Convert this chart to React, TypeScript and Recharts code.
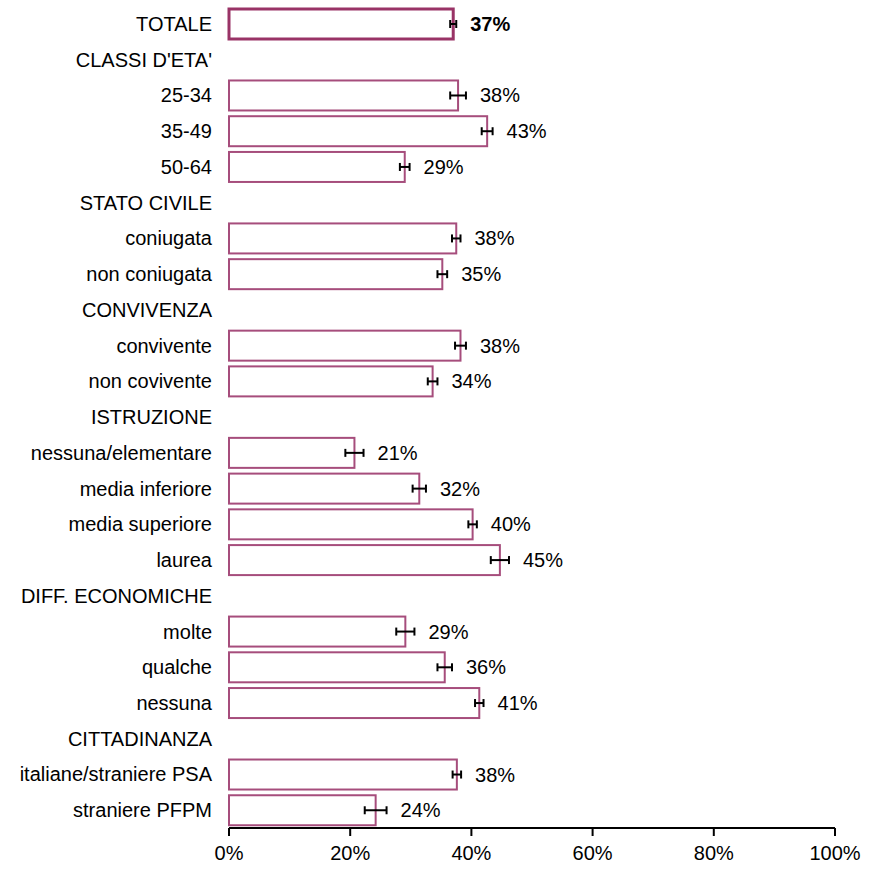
import React from 'react';
import { BarChart, Bar, XAxis, YAxis, ErrorBar, LabelList } from 'recharts';

// rows, top to bottom (section headers have no bar)
const categories = [
  'TOTALE',
  "CLASSI D'ETA'",
  '25-34',
  '35-49',
  '50-64',
  'STATO CIVILE',
  'coniugata',
  'non coniugata',
  'CONVIVENZA',
  'convivente',
  'non covivente',
  'ISTRUZIONE',
  'nessuna/elementare',
  'media inferiore',
  'media superiore',
  'laurea',
  'DIFF. ECONOMICHE',
  'molte',
  'qualche',
  'nessuna',
  'CITTADINANZA',
  'italiane/straniere PSA',
  'straniere PFPM',
];

const values = [
  37.0, null, 37.8, 42.6, 29.0, null, 37.5, 35.2, null, 38.2, 33.6, null,
  20.7, 31.4, 40.2, 44.7, null, 29.1, 35.6, 41.3, null, 37.6, 24.2,
];

// half width of the confidence interval, in percentage points
const errors = [
  0.5, null, 1.3, 0.9, 0.8, null, 0.7, 0.8, null, 0.9, 0.8, null,
  1.5, 1.1, 0.7, 1.5, null, 1.5, 1.2, 0.7, null, 0.7, 1.8,
];

const valueLabels = [
  '37%', '', '38%', '43%', '29%', '', '38%', '35%', '', '38%', '34%', '',
  '21%', '32%', '40%', '45%', '', '29%', '36%', '41%', '', '38%', '24%',
];

const xTicks = [0, 20, 40, 60, 80, 100];

const data = categories.map((name, i) => ({
  name,
  value: values[i],
  err: errors[i],
  label: valueLabels[i],
}));

const BarShape = (props: any) => {
  const { x, y, width, height, payload } = props;
  if (payload == null || payload.value == null) return <g />;
  const total = payload.name === 'TOTALE';
  return (
    <rect
      x={x}
      y={y}
      width={width}
      height={height}
      fill="#ffffff"
      stroke={total ? '#993366' : '#a64d7c'}
      strokeWidth={total ? 3 : 2}
    />
  );
};

// LabelList gets the category name as value, so look the row up by name
const ValueLabel = (props: any) => {
  const { x, y, width, height, value } = props;
  const row = data.find((d) => d.name === value);
  if (!row || row.value == null) return null;
  const pxPerUnit = width / row.value;
  const tx = x + width + (row.err || 0) * pxPerUnit + 14;
  return (
    <text
      x={tx}
      y={y + height / 2}
      dy={7}
      fontSize={20}
      fill="#000"
      fontWeight={row.name === 'TOTALE' ? 'bold' : 'normal'}
    >
      {row.label}
    </text>
  );
};

export default function App() {
  return (
    <div
      style={{
        position: 'absolute',
        left: 0,
        top: 0,
        width: 871,
        height: 872,
        background: '#fff',
        fontFamily: '"Liberation Sans", Arial, sans-serif',
      }}
    >
      <BarChart
        width={871}
        height={872}
        data={data}
        layout="vertical"
        margin={{ top: 6, right: 36, bottom: 0, left: 0 }}
      >
        <XAxis
          type="number"
          domain={[0, 100]}
          ticks={xTicks}
          tickFormatter={(v) => `${v}%`}
          height={44}
          axisLine={{ stroke: '#000', strokeWidth: 2 }}
          tickLine={{ stroke: '#000', strokeWidth: 2 }}
          tickSize={8}
          tickMargin={10}
          tick={{ fontSize: 20, fill: '#000' }}
        />
        <YAxis
          type="category"
          dataKey="name"
          width={229}
          interval={0}
          axisLine={false}
          tickLine={false}
          tickMargin={11}
          tick={{ fontSize: 20, fill: '#000' }}
        />
        <Bar dataKey="value" barSize={30} shape={BarShape} isAnimationActive={false}>
          <ErrorBar dataKey="err" width={4} strokeWidth={2} stroke="#000" direction="x" />
          <LabelList dataKey="name" content={ValueLabel} />
        </Bar>
      </BarChart>
    </div>
  );
}
